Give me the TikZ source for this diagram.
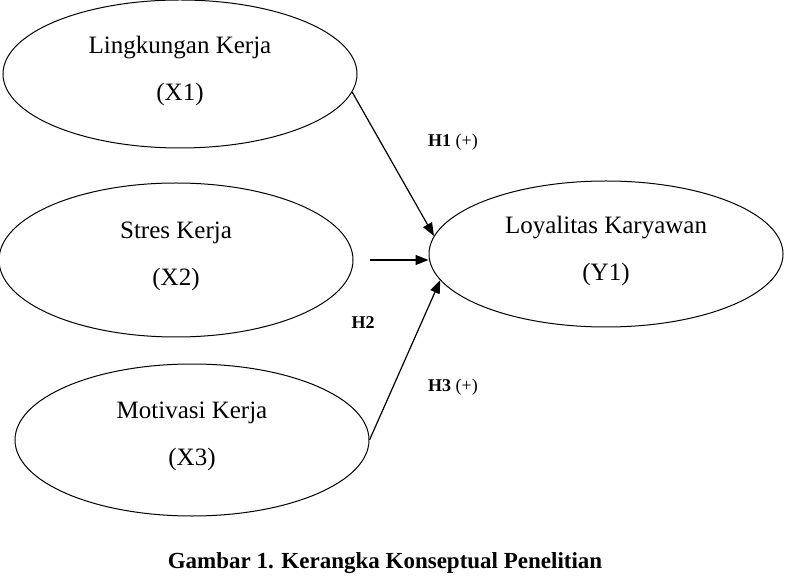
\documentclass[tikz,border=0pt]{standalone}
\usepackage{fontspec}
\setmainfont{Liberation Serif}
\usetikzlibrary{positioning,shapes.geometric,arrows.meta}

\begin{document}
\begin{tikzpicture}[x=0.5pt, y=-0.5pt, line width=0.5pt,
  var/.style={draw, ellipse, minimum width=177pt, minimum height=74pt, inner sep=0pt, text depth=6pt, align=center, font=\fontsize{12.5}{23.5}\selectfont},
  hyp/.style={font=\fontsize{9}{11}\selectfont},
  arr/.style={-{Triangle[length=6.5pt,width=5pt]}, line width=0.6pt}]
\useasboundingbox (0,0) rectangle (785,576);
\node (x1) [var] at (180,74) {Lingkungan Kerja\\(X1)};
\node (x2) [var, minimum height=77pt] at (176,260) {Stres Kerja\\(X2)};
\node (x3) [var, minimum height=76pt] at (192,440) {Motivasi Kerja\\(X3)};
\node (y1) [var, minimum height=73pt] at (606,254) {Loyalitas Karyawan\\(Y1)};

\node (h1) [hyp] at (453,142) {\textbf{H1} (+)};
\node (h2) [hyp] at (363,323) {\textbf{H2}};
\node (h3) [hyp] at (453,387) {\textbf{H3} (+)};

\draw[arr] (x1.-6) -- (y1.174);
\draw[arr] ([xshift=8pt]x2.east) -- (x2.east -| y1.west);
\draw[arr] (x3.east) -- (y1.-171);

\node (cap) at (385,563) {\fontsize{11.5}{14}\selectfont\bfseries Gambar 1. Kerangka Konseptual Penelitian};
\end{tikzpicture}
\end{document}
